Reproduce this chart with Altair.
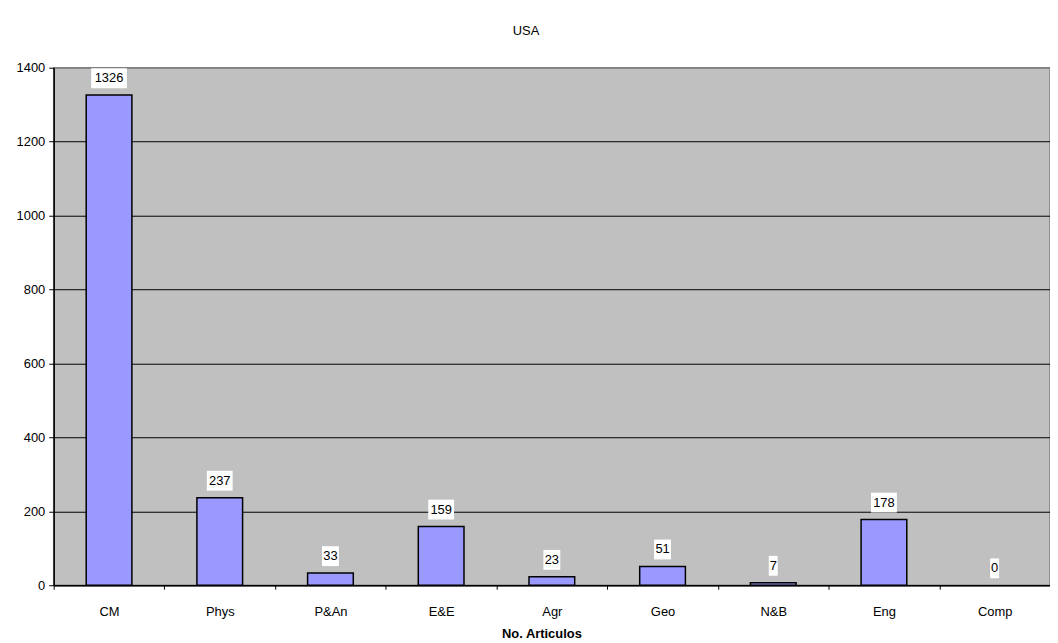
import altair as alt
import pandas as pd

categories = ["CM", "Phys", "P&An", "E&E", "Agr", "Geo", "N&B", "Eng", "Comp"]
values = [1326, 237, 33, 159, 23, 51, 7, 178, 0]
y_ticks = [0, 200, 400, 600, 800, 1000, 1200, 1400]

df = pd.DataFrame({"Area": categories, "Articulos": values})
df["digits"] = df["Articulos"].astype(str).str.len()

FONT = "Liberation Sans"

x_enc = alt.X(
    "Area:N",
    sort=categories,
    scale=alt.Scale(paddingInner=0, paddingOuter=0),
    axis=alt.Axis(
        title="No. Articulos",
        titleFontWeight="bold",
        titleFontSize=13,
        titleFont=FONT,
        titlePadding=10,
        titleX=491,
        labelAngle=0,
        labelFontSize=13,
        labelFont=FONT,
        labelColor="black",
        labelPadding=16,
        tickBand="extent",
        tickSize=4,
        tickColor="black",
        domainColor="black",
        domainWidth=1.5,
        grid=False,
    ),
)
y_enc = alt.Y(
    "Articulos:Q",
    scale=alt.Scale(domain=[0, 1400], nice=False),
    axis=alt.Axis(
        title=None,
        values=y_ticks,
        format="d",
        labelFontSize=13,
        labelFont=FONT,
        labelColor="black",
        labelPadding=4,
        tickSize=5,
        tickColor="black",
        domainColor="black",
        domainWidth=1.5,
        grid=True,
        gridColor=alt.condition("datum.value == 1400", alt.value("#808080"), alt.value("black")),
        gridWidth=1,
        gridOpacity=1,
    ),
)

base = alt.Chart(df)

bars = base.transform_filter("datum.Articulos > 0").mark_bar(
    fill="#9999FF", stroke="black", strokeWidth=1.5, width=46
).encode(x=x_enc, y=y_enc)

box_w = {1: 9, 2: 17, 3: 26, 4: 36}
boxes = []
for n, w in box_w.items():
    boxes.append(
        base.transform_filter(f"datum.digits == {n}")
        .mark_bar(fill="white", width=w, yOffset=-27, y2Offset=-7)
        .encode(x=alt.X("Area:N", sort=categories), y="Articulos:Q", y2="Articulos:Q")
    )

labels = base.mark_text(
    dy=-17, baseline="middle", align="center", fontSize=13, font=FONT, color="black"
).encode(x=alt.X("Area:N", sort=categories), y="Articulos:Q", text="Articulos:Q")

chart = (
    alt.layer(bars, *boxes, labels)
    .properties(
        width=1003,
        height=521,
        title=alt.TitleParams(
            "USA", fontSize=13, font=FONT, fontWeight="normal", color="black",
            anchor="middle", dx=-26, offset=24,
        ),
        autosize=alt.AutoSizeParams(type="none"),
        padding={"left": 46, "top": 58, "right": 0, "bottom": 54},
        background="white",
    )
    .configure_view(fill="#C0C0C0", stroke="#808080", strokeWidth=1.5)
)

chart.save("out.html", embed_options={"renderer": "svg", "actions": False})
